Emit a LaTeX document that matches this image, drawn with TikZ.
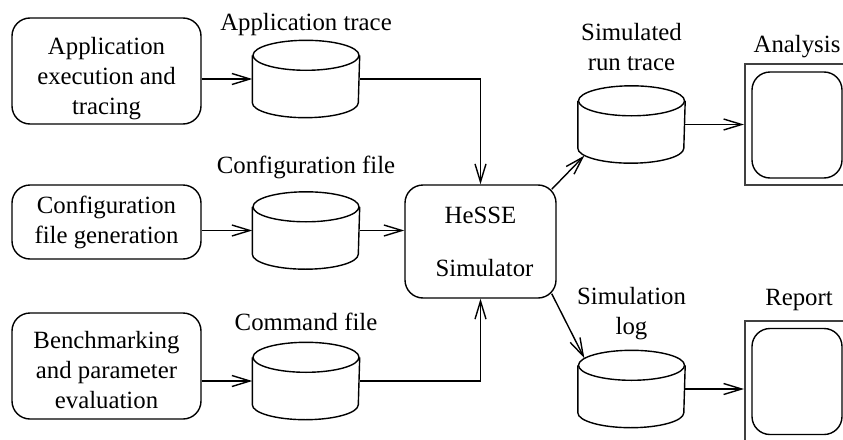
\documentclass[tikz,border=0pt]{standalone}
\usepackage{fontspec}
\setmainfont{Liberation Serif}
\usetikzlibrary{arrows.meta,calc}

% file drum drawn round a named node
\newcommand{\drum}[1]{%
  \draw ($(#1.north)+(0,15)$) ellipse [x radius=53, y radius=15];
  \draw ($(#1.north west)+(0,15)$) -- ($(#1.south west)+(0,-15)$)
    arc [start angle=180, end angle=0, x radius=53, y radius=15] -- ($(#1.north east)+(0,15)$);
}

\begin{document}
\begin{tikzpicture}[x=1pt,y=-1pt,line width=1.4pt,font=\fontsize{24.8}{30}\selectfont]
  \tikzstyle{stage} = [rectangle, draw, rounded corners=18pt, minimum width=189pt, align=center, inner sep=2pt]
  \tikzstyle{store} = [rectangle, minimum width=106pt, minimum height=76pt, inner sep=0pt]
  \tikzstyle{screen} = [rectangle, draw, rounded corners=18pt, minimum width=90pt, minimum height=106pt]
  \tikzstyle{frame} = [rectangle, draw=black!75, line width=2pt, minimum width=104pt, minimum height=121pt]
  \tikzstyle{line} = [draw, -{Straight Barb[length=18pt,width=11pt]}]

  \clip (0,0) rectangle (843,439);

  % Input stages
  \node[stage, minimum height=106pt] (app) at (106.5,71) {\rule{0pt}{33pt}Application\\execution and\\tracing};
  \node[stage, minimum height=74pt] (cfg) at (106.5,222) {Configuration\\file generation};
  \node[stage, minimum height=106pt] (bench) at (106.5,366) {\rule{0pt}{25pt}Benchmarking\\and parameter\\evaluation};

  % Files
  \node[store] (appdb) at (306,79) {};
  \node[store] (cfgdb) at (306,230.5) {};
  \node[store] (cmddb) at (306,381) {};
  \drum{appdb}
  \drum{cfgdb}
  \drum{cmddb}
  \node (appdbtxt) at (306,25) {Application trace};
  \node (cfgdbtxt) at (306,167) {Configuration file};
  \node (cmddbtxt) at (306,322) {Command file};

  % Simulator
  \node[stage, minimum width=151pt, minimum height=113pt] (sim) at (480.5,241.5) {HeSSE\\[23pt]\hspace*{8pt}Simulator};

  % Outputs
  \node[store] (runtrace) at (631.5,124.5) {};
  \node[store] (simlog) at (631.5,389) {};
  \drum{runtrace}
  \drum{simlog}
  \node[align=center] (runtracetxt) at (631.5,47.5) {Simulated\\run trace};
  \node[align=center] (simlogtxt) at (631.5,314) {Simulation\\log};

  % Displays
  \node[frame] (anaframe) at (797,124.5) {};
  \node[screen] (anascreen) at (797,125) {};
  \node[frame] (repframe) at (797,381.5) {};
  \node[screen] (repscreen) at (797,381.5) {};
  \node (anatxt) at (797,47) {Analysis};
  \node (reptxt) at (799,300) {Report};

  \draw[line] (app.east |- appdb.west) -- (appdb.west);
  \draw[line] (cfg.east |- cfgdb.west) -- (cfgdb.west);
  \draw[line] (bench.east |- cmddb.west) -- (cmddb.west);
  \draw[line] (appdb.east) -| (sim.north);
  \draw[line] (cfgdb.east) -- (sim.west |- cfgdb.east);
  \draw[line] (cmddb.east) -| (sim.south);
  \draw[line] ($(sim.north east)+(-5,5)$) -- ($(runtrace.south west)+(6.5,-7.5)$);
  \draw[line] ($(sim.south east)+(-5,-5)$) -- ($(simlog.north west)+(6.5,7.8)$);
  \draw[line] (runtrace.east) -- (runtrace.east -| anaframe.west);
  \draw[line] (simlog.east) -- (simlog.east -| repframe.west);
\end{tikzpicture}
\end{document}
